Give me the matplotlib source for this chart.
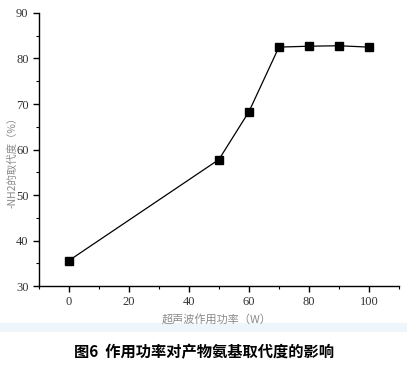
import matplotlib
matplotlib.use("Agg")
import matplotlib.pyplot as plt
from matplotlib.ticker import MultipleLocator
from matplotlib.patches import Rectangle

# 数据
power = [0, 50, 60, 70, 80, 90, 100]
degree = [35.6, 57.8, 68.3, 82.5, 82.7, 82.8, 82.5]

x_label = "超声波作用功率（W）"
y_label = "-NH2的取代度（%）"
caption = "图6  作用功率对产物氨基取代度的影响"

cjk = ["Noto Sans CJK SC", "DejaVu Sans"]

fig = plt.figure(figsize=(4.07, 3.65), dpi=100)
ax = fig.add_axes([0.0958, 0.2164, 0.8842, 0.748])

ax.plot(power, degree, color="black", linewidth=0.9, marker="s",
        markersize=5.8, markerfacecolor="black", markeredgecolor="black")

ax.set_xlim(-10, 110)
ax.set_ylim(30, 90)
ax.xaxis.set_major_locator(MultipleLocator(20))
ax.xaxis.set_minor_locator(MultipleLocator(10))
ax.yaxis.set_major_locator(MultipleLocator(10))
ax.yaxis.set_minor_locator(MultipleLocator(5))

for s in ["top", "right"]:
    ax.spines[s].set_visible(False)
for s in ["left", "bottom"]:
    ax.spines[s].set_linewidth(1.0)

ax.tick_params(which="major", direction="out", length=4, width=1.0,
               labelsize=9, labelcolor="#333333")
ax.tick_params(which="minor", direction="out", length=2.5, width=0.8)
for lab in ax.get_xticklabels() + ax.get_yticklabels():
    lab.set_family("Liberation Serif")

ax.set_xlabel(x_label, family=cjk, fontsize=8, color="#8a8a8a")
ax.set_ylabel(y_label, family=cjk, fontsize=7.5, color="#8a8a8a")
# 轴标题位置（像素换算）
ax.xaxis.set_label_coords((217 - 39) / 360, -(314 - 286) / 273)
ax.yaxis.set_label_coords(-(39 - 17) / 360, (286 - 160) / 273)

# 扫描时留下的淡蓝色条带
band = Rectangle((0.0, 1 - 331 / 365), 1.0, 8 / 365,
                 transform=fig.transFigure, color="#eef5fb", zorder=-5)
fig.patches.append(band)

fig.text(0.5, 1 - 352 / 365, caption, family=cjk, fontsize=11,
         fontweight="bold", ha="center", va="center", color="black")

fig.savefig("out.png", dpi=100)
